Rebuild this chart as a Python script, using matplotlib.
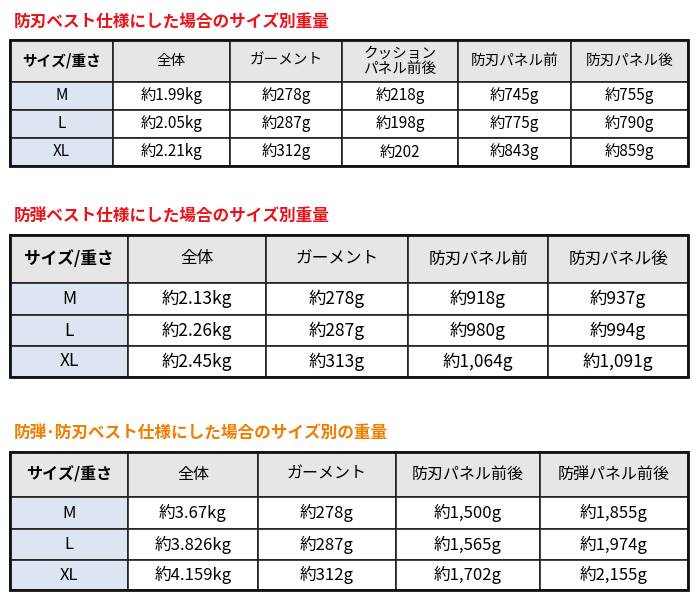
import matplotlib.pyplot as plt
from matplotlib.patches import Rectangle

plt.rcParams['font.family'] = 'Noto Sans CJK JP'

# --- data ---
title1 = "防刃ベスト仕様にした場合のサイズ別重量"
header1 = ["サイズ/重さ", "全体", "ガーメント", "クッション\nパネル前後", "防刃パネル前", "防刃パネル後"]
sizes = ["M", "L", "XL"]
total1 = ["約1.99kg", "約2.05kg", "約2.21kg"]
garment1 = ["約278g", "約287g", "約312g"]
cushion1 = ["約218g", "約198g", "約202"]
front1 = ["約745g", "約775g", "約843g"]
back1 = ["約755g", "約790g", "約859g"]

title2 = "防弾ベスト仕様にした場合のサイズ別重量"
header2 = ["サイズ/重さ", "全体", "ガーメント", "防刃パネル前", "防刃パネル後"]
total2 = ["約2.13kg", "約2.26kg", "約2.45kg"]
garment2 = ["約278g", "約287g", "約313g"]
front2 = ["約918g", "約980g", "約1,064g"]
back2 = ["約937g", "約994g", "約1,091g"]

title3 = "防弾･防刃ベスト仕様にした場合のサイズ別の重量"
header3 = ["サイズ/重さ", "全体", "ガーメント", "防刃パネル前後", "防弾パネル前後"]
total3 = ["約3.67kg", "約3.826kg", "約4.159kg"]
garment3 = ["約278g", "約287g", "約312g"]
stab3 = ["約1,500g", "約1,565g", "約1,702g"]
bullet3 = ["約1,855g", "約1,974g", "約2,155g"]

tables = [
    dict(title=title1, color="#e8141c", ty=22, header=header1,
         cols=[sizes, total1, garment1, cushion1, front1, back1],
         xs=[10, 113, 230, 342, 458, 571, 688], ys=[40, 82, 110, 138, 166], fs=11),
    dict(title=title2, color="#e8141c", ty=217, header=header2,
         cols=[sizes, total2, garment2, front2, back2],
         xs=[10, 128, 266, 408, 548, 688], ys=[235, 283, 315, 346, 377], fs=12.5),
    dict(title=title3, color="#ee7d00", ty=434, header=header3,
         cols=[sizes, total3, garment3, stab3, bullet3],
         xs=[10, 128, 258, 396, 540, 688], ys=[452, 497, 529, 560, 590], fs=12),
]

fig = plt.figure(figsize=(7, 6.12), dpi=100)
ax = fig.add_axes([0, 0, 1, 1])
ax.set_xlim(0, 700)
ax.set_ylim(612, 0)
ax.axis('off')

for t in tables:
    xs, ys = t["xs"], t["ys"]
    ax.text(14, t["ty"], t["title"], color=t["color"], fontsize=12, fontweight='bold', va='center')
    for j, h in enumerate(t["header"]):
        ax.add_patch(Rectangle((xs[j], ys[0]), xs[j + 1] - xs[j], ys[1] - ys[0],
                               facecolor="#e6e6e6", edgecolor="#222222", lw=1.2))
        ax.text((xs[j] + xs[j + 1]) / 2, (ys[0] + ys[1]) / 2, h, ha='center', va='center',
                fontsize=t["fs"] - 0.5, fontweight='bold' if j == 0 else 'normal', linespacing=1.1)
    for i in range(len(sizes)):
        for j, col in enumerate(t["cols"]):
            ax.add_patch(Rectangle((xs[j], ys[i + 1]), xs[j + 1] - xs[j], ys[i + 2] - ys[i + 1],
                                   facecolor="#dce6f2" if j == 0 else "white",
                                   edgecolor="#222222", lw=1.2))
            ax.text((xs[j] + xs[j + 1]) / 2, (ys[i + 1] + ys[i + 2]) / 2, col[i],
                    ha='center', va='center', fontsize=t["fs"])
    ax.add_patch(Rectangle((xs[0], ys[0]), xs[-1] - xs[0], ys[-1] - ys[0],
                           facecolor='none', edgecolor='#111111', lw=2))

plt.savefig("out.png", dpi=100)
